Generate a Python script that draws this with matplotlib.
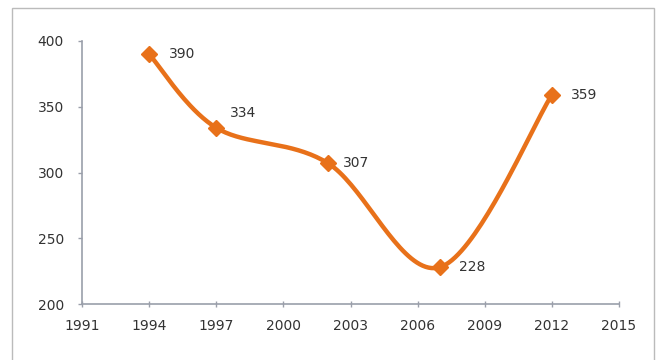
import numpy as np
import matplotlib
matplotlib.use("Agg")
import matplotlib.pyplot as plt
from matplotlib.patches import Rectangle

years = [1994, 1997, 2002, 2007, 2012]
values = [390, 334, 307, 228, 359]
labels = ["390", "334", "307", "228", "359"]
xticks = [1991, 1994, 1997, 2000, 2003, 2006, 2009, 2012, 2015]
yticks = [200, 250, 300, 350, 400]

ORANGE = "#E8711A"
AXIS = "#9A9FAA"
TEXT = "#333333"

def smooth(xs, ys, n=40):
    # Excel-like smoothed line: cubic Bezier segments with Catmull-Rom control points
    P = np.column_stack([xs, ys]).astype(float)
    # normalise to remove scale bias
    sx = (max(xs) - min(xs)) or 1.0
    sy = (max(ys) - min(ys)) or 1.0
    Q = P / [sx, sy]
    out = []
    m = len(Q)
    for i in range(m - 1):
        p0 = Q[i - 1] if i > 0 else Q[i]
        p1 = Q[i]
        p2 = Q[i + 1]
        p3 = Q[i + 2] if i + 2 < m else Q[i + 1]
        c1 = p1 + (p2 - p0) / 6.0
        c2 = p2 - (p3 - p1) / 6.0
        t = np.linspace(0, 1, n)[:, None]
        seg = ((1 - t) ** 3) * p1 + 3 * ((1 - t) ** 2) * t * c1 + 3 * (1 - t) * t ** 2 * c2 + t ** 3 * p2
        out.append(seg if i == 0 else seg[1:])
    R = np.vstack(out) * [sx, sy]
    return R[:, 0], R[:, 1]

fig = plt.figure(figsize=(6.59, 3.6), dpi=100)
fig.patch.set_facecolor("white")
fig.patches.append(Rectangle((12 / 659, -0.05), (654 - 12) / 659, 1.05 - 8 / 360,
                             transform=fig.transFigure, fill=False,
                             edgecolor="#BBBBBB", linewidth=1.0))

ax = fig.add_axes([82 / 659, 1 - 304 / 360, (619 - 82) / 659, (304 - 41) / 360])
ax.set_xlim(1991, 2015)
ax.set_ylim(200, 400)

sx, sy = smooth(years, values)
ax.plot(sx, sy, color=ORANGE, linewidth=3.2, solid_capstyle="round", zorder=3)
ax.plot(years, values, linestyle="none", marker="D", markersize=8,
        color=ORANGE, markeredgecolor=ORANGE, zorder=4)

offsets = [(14, 0), (10, 11), (11, 0), (14, 0), (14, 0)]
for x, y, lab, off in zip(years, values, labels, offsets):
    ax.annotate(lab, (x, y), xytext=off, textcoords="offset points",
                ha="left", va="center", fontsize=10, color=TEXT)

ax.set_xticks(xticks)
ax.set_yticks(yticks)
ax.set_xticklabels([str(v) for v in xticks])
ax.set_yticklabels([str(v) for v in yticks])

for s in ["top", "right"]:
    ax.spines[s].set_visible(False)
for s in ["left", "bottom"]:
    ax.spines[s].set_color(AXIS)
    ax.spines[s].set_linewidth(1.2)

ax.tick_params(axis="y", direction="out", length=3, width=1, color=AXIS,
               labelsize=10, labelcolor=TEXT, pad=10)
ax.tick_params(axis="x", direction="inout", length=4, width=1, color=AXIS,
               labelsize=10, labelcolor=TEXT, pad=9)

fig.savefig("out.png", dpi=100, facecolor="white")
